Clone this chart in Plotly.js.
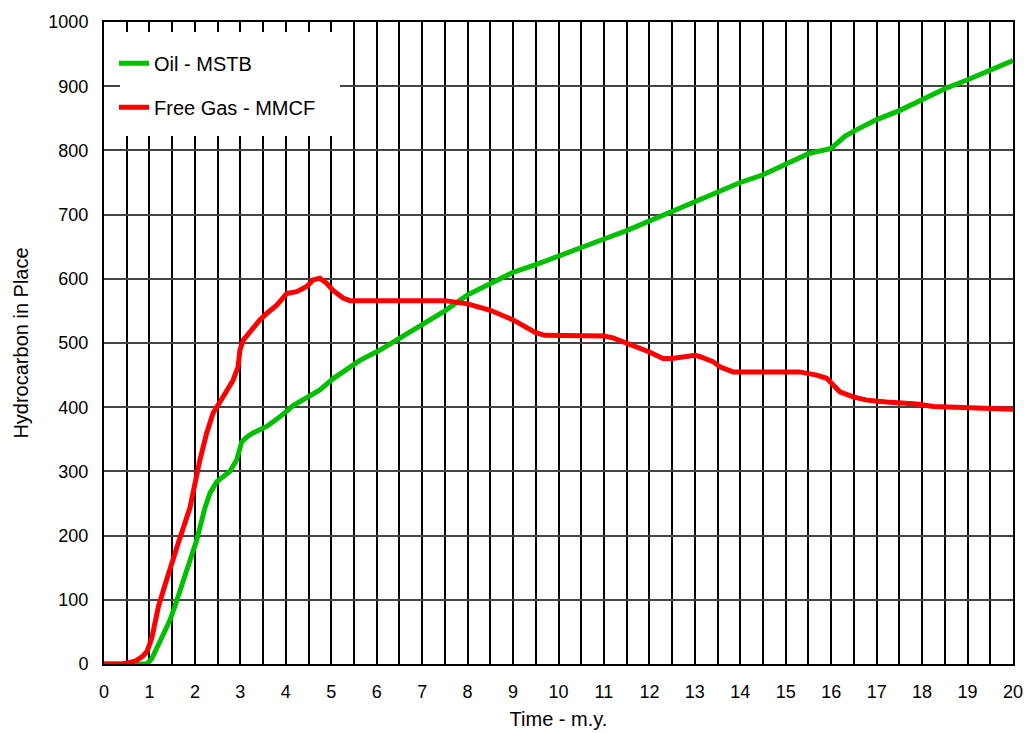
<!DOCTYPE html>
<html>
<head>
<meta charset="utf-8">
<script src="https://cdn.plot.ly/plotly-3.0.1.min.js"></script>
<style>html,body{margin:0;padding:0;background:#fff;}#chart{width:1028px;height:733px;}</style>
</head>
<body>
<div id="chart"></div>
<script>
// Oil - MSTB
const oilTime = [0, 0.5, 0.8, 0.94, 1.05, 1.16, 1.3, 1.45, 1.56, 1.67, 1.78, 1.89, 2.04, 2.22, 2.33, 2.48, 2.62, 2.77, 2.92, 3.03, 3.15, 3.28, 3.58, 3.87, 4.17, 4.46, 4.75, 5.05, 5.34, 5.63, 6.07, 6.44, 6.8, 7.13, 7.5, 8.0, 8.5, 9.0, 9.5, 10.0, 10.5, 11.0, 11.5, 12.0, 12.5, 13.0, 13.5, 14.0, 14.5, 15.0, 15.5, 16.0, 16.3, 16.5, 17.0, 17.5, 18.0, 18.5, 19.0, 19.5, 20.0];
const oilValue = [0, 0, 0, 0, 8, 25, 45, 68, 90, 115, 138, 162, 193, 243, 266, 284, 292, 300, 318, 346, 354, 360, 370, 385, 403, 414, 427, 445, 458, 473, 489, 505, 520, 533, 550, 575, 592, 610, 622, 636, 650, 662, 675, 690, 703, 720, 733, 750, 762, 778, 795, 803, 822, 830, 848, 862, 880, 896, 910, 925, 940];

// Free Gas - MMCF
const gasTime = [0, 0.4, 0.55, 0.7, 0.85, 0.95, 1.05, 1.2, 1.35, 1.5, 1.65, 1.89, 2.0, 2.11, 2.26, 2.4, 2.62, 2.84, 2.95, 2.99, 3.07, 3.21, 3.43, 3.58, 3.8, 4.02, 4.24, 4.46, 4.6, 4.75, 4.9, 5.04, 5.26, 5.41, 6.0, 7.0, 7.5, 8.0, 8.5, 9.0, 9.5, 9.7, 10.5, 11.0, 11.2, 11.5, 12.0, 12.3, 12.5, 13.0, 13.1, 13.4, 13.55, 13.84, 14.5, 15.3, 15.68, 15.9, 16.04, 16.19, 16.48, 16.78, 17.22, 17.88, 18.25, 19.0, 19.71, 20.0];
const gasValue = [0, 0, 2, 5, 12, 20, 40, 90, 125, 160, 192, 243, 282, 318, 360, 391, 416, 442, 463, 489, 505, 518, 536, 546, 559, 577, 580, 588, 598, 601, 593, 582, 570, 566, 566, 566, 566, 561, 551, 536, 516, 512, 512, 511, 508, 500, 486, 476, 476, 481, 479, 471, 463, 455, 455, 455, 450, 445, 435, 424, 416, 411, 408, 405, 401, 400, 399, 397];

const seriesNames = ["Oil - MSTB", "Free Gas - MMCF"];
const xTickVals = [0,1,2,3,4,5,6,7,8,9,10,11,12,13,14,15,16,17,18,19,20];
const yTickVals = [0,100,200,300,400,500,600,700,800,900,1000];

const FONT = "Liberation Sans, Arial, sans-serif";

const traces = [
  {x: oilTime, y: oilValue, name: seriesNames[0], mode: "lines", legendgroup: "a",
   line: {color: "#00C000", width: 5}},
  {x: gasTime, y: gasValue, name: seriesNames[1], mode: "lines", legendgroup: "b",
   line: {color: "#FF0000", width: 5}}
];

const layout = {
  width: 1028, height: 733,
  margin: {l: 104, r: 15, t: 22, b: 69},
  paper_bgcolor: "#fff", plot_bgcolor: "#fff",
  font: {family: FONT, size: 18, color: "#000"},
  showlegend: true,
  legend: {
    x: 0.011, y: 0.966, xanchor: "left", yanchor: "top",
    bgcolor: "rgba(0,0,0,0)", borderwidth: 0,
    font: {family: FONT, size: 20, color: "#000"},
    traceorder: "grouped", tracegroupgap: 15, itemwidth: 30
  },
  shapes: [{
    type: "rect", xref: "paper", yref: "paper", layer: "above",
    x0: 0.0176, x1: 0.2596, y0: 0.8224, y1: 0.9844,
    fillcolor: "#fff", line: {width: 0}
  }],
  xaxis: {
    range: [0, 20], tickmode: "array", tickvals: xTickVals,
    ticks: "", showline: true, mirror: true, linecolor: "#000", linewidth: 2,
    showgrid: true, gridcolor: "#000", gridwidth: 2, zeroline: false,
    minor: {dtick: 0.5, showgrid: true, gridcolor: "#000", gridwidth: 2},
    tickfont: {family: FONT, size: 18, color: "#000"},
    ticklabelstandoff: 10,
    title: {text: "Time - m.y.", font: {family: FONT, size: 20, color: "#000"}, standoff: 11}
  },
  yaxis: {
    range: [0, 1000], tickmode: "array", tickvals: yTickVals,
    ticks: "", showline: true, mirror: true, linecolor: "#000", linewidth: 2,
    showgrid: true, gridcolor: "#444", gridwidth: 2, zeroline: false,
    tickfont: {family: FONT, size: 18, color: "#000"},
    ticklabelstandoff: 10,
    title: {text: "Hydrocarbon in Place", font: {family: FONT, size: 20, color: "#000"}, standoff: 14}
  }
};

Plotly.newPlot("chart", traces, layout, {displayModeBar: false, staticPlot: true});
</script>
</body>
</html>
